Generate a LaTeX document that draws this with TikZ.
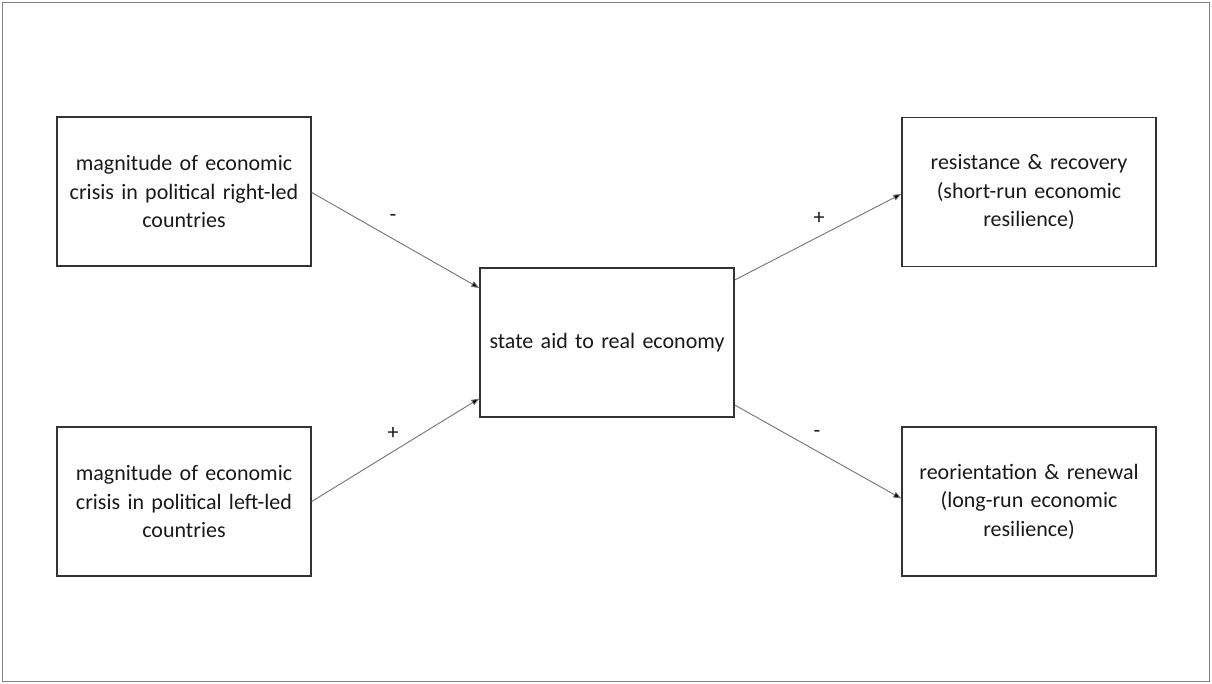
\documentclass[tikz,border=0pt]{standalone}
\usepackage{fontspec}
\setmainfont{Carlito}
\usetikzlibrary{arrows.meta}
\begin{document}
\begin{tikzpicture}[x=1pt,y=-1pt,
  box/.style={draw=black!80,line width=1.4pt,minimum width=254pt,minimum height=149pt,
    align=center,text width=248pt,inner sep=0pt,font=\fontsize{22}{28.5}\selectfont,text=black!90},
  conn/.style={draw=black!55,line width=0.9pt,-{Triangle[length=8pt,width=6pt,fill=black]}},
  sign/.style={font=\fontsize{22}{24}\selectfont,text=black!90,inner sep=0pt}]
\useasboundingbox (0,0) rectangle (1212,684);
\draw[black!50,line width=1.5pt] (2.5,2.5) rectangle (1209.5,681.5);
\node[box] (lt) at (184,191.5) {magnitude of economic\\crisis in political right-led\\countries};
\node[box] (lb) at (184,501.5) {magnitude of economic\\crisis in political left-led\\countries};
\node[box] (c) at (607,342.5) {state aid to real economy};
\node[box] (rt) at (1029,192) {resistance \& recovery\\(short-run economic\\resilience)};
\node[box] (rb) at (1029,501.5) {reorientation \& renewal\\(long-run economic\\resilience)};
\draw[conn] ([yshift=-1pt]lt.east) -- ([yshift=54.5pt]c.west);
\draw[conn] (lb.east) -- ([yshift=-56pt]c.west);
\draw[conn] ([yshift=62.5pt]c.east) -- ([yshift=-2pt]rt.west);
\draw[conn] ([yshift=-62.5pt]c.east) -- ([yshift=3pt]rb.west);
\node[sign] (s1) at (393,218) {-};
\node[sign] (s2) at (393,433) {+};
\node[sign] (s3) at (819,218) {+};
\node[sign] (s4) at (817,434) {-};
\end{tikzpicture}
\end{document}
